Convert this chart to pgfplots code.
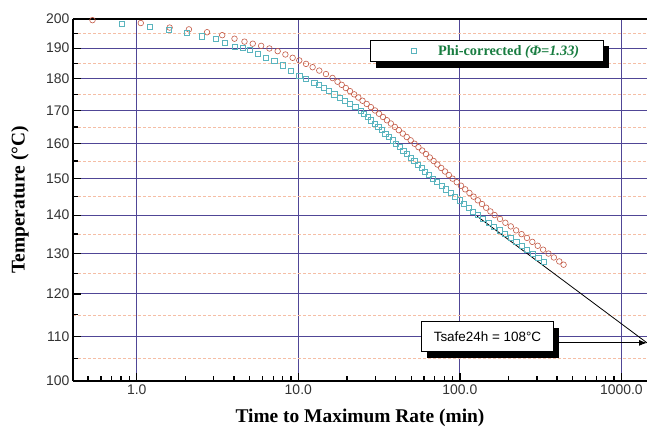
\documentclass[border=0pt]{standalone}
\usepackage{fontspec}
\setmainfont{Liberation Serif}
\setsansfont{Liberation Sans}
\usepackage{pgfplots}
\pgfplotsset{compat=1.18}
\usetikzlibrary{shadows,arrows.meta}
\definecolor{redc}{RGB}{195,90,70}
\definecolor{cyanc}{RGB}{90,180,190}
\definecolor{gridc}{RGB}{80,70,150}
\definecolor{minorc}{RGB}{245,190,165}
\definecolor{legc}{RGB}{25,125,65}
\begin{document}
\begin{tikzpicture}
\useasboundingbox (-73bp,-51bp) rectangle (574bp,381bp);
\begin{axis}[
  at={(0,0)}, anchor=south west,
  scale only axis, width=574bp, height=362bp,
  xmode=log, log basis x=10,
  xmin=0.403, xmax=1440,
  ymin=100, ymax=200,
  y coord trafo/.code={\pgfmathparse{-10000/(#1+273.15)}},
  y coord inv trafo/.code={\pgfmathparse{-10000/#1-273.15}},
  xtick={1,10,100,1000},
  xticklabels={1.0,10.0,100.0,1000.0},
  minor xtick={0.5,0.6,0.7,0.8,0.9,2,3,4,5,6,7,8,9,20,30,40,50,60,70,80,90,200,300,400,500,600,700,800,900},
  ytick={100,110,120,130,140,150,160,170,180,190,200},
  yticklabels={100,110,120,130,140,150,160,170,180,190,200},
  minor ytick={105,115,125,135,145,155,165,175,185,195},
  xmajorgrids, ymajorgrids, yminorgrids,
  major grid style={gridc, line width=0.9bp},
  minor grid style={minorc, dash pattern=on 3bp off 2bp, line width=0.6bp},
  axis x line*=box, axis y line*=left,
  axis line style={black, line width=1.8bp},
  tick pos=left, tick align=inside,
  major tick length=8bp, minor tick length=5bp,
  every tick/.style={black, line width=1.3bp},
  /pgf/number format/assume math mode=true,
  tick label style={font=\sffamily\fontsize{14}{14}\selectfont, text=black!80},
  xlabel={Time to Maximum Rate (min)},
  ylabel={Temperature (°C)},
  every axis x label/.style={at={(axis description cs:0.5,-0.102)}, anchor=center, font=\bfseries\fontsize{19.5}{20}\selectfont},
  every axis y label/.style={at={(axis description cs:-0.0923,0.5)}, anchor=center, rotate=90, font=\bfseries\fontsize{19.5}{20}\selectfont},
  clip=false,
  legend image code/.code={\draw[#1] plot coordinates {(19bp,0bp)}; \path (0bp,0bp) (21bp,0bp);},
  legend style={at={(0.5174,0.942)}, anchor=north west, draw=black, thin, fill=white,
    drop shadow={shadow xshift=6bp, shadow yshift=-6bp, fill=black, opacity=1},
    font=\bfseries\fontsize{14.4}{15}\selectfont, text=legc,
    inner xsep=24bp, inner ysep=4bp, column sep=0pt,
    nodes={inner xsep=0pt, inner ysep=1bp}},
]
\addplot[only marks, mark=o, mark size=2.8bp, redc, line width=0.6bp, forget plot] coordinates {
(0.532,199.6)(1.059,198.6)(1.598,197.0)(2.103,196.4)(2.724,195.4)(3.381,194.4)(4.027,193.2)(4.642,192.2)(5.224,191.5)(5.887,190.8)(6.622,189.9)(7.451,189.0)(8.316,187.9)(9.222,186.8)(10.14,185.9)(11.16,184.8)(12.26,183.7)(13.48,182.6)(14.83,181.5)(16.28,180.2)
(17.49,179)(18.56,178)(19.69,177)(20.90,176)(22.18,175)(23.53,174)(24.97,173)(26.50,172)(28.13,171)(29.85,170)(31.59,169)(33.42,168)(35.36,167)(37.41,166)(39.58,165)(41.88,164)(44.31,163)(46.88,162)(49.60,161)(52.48,160)(55.40,159)(58.48,158)(61.73,157)(65.16,156)(68.79,155)(72.61,154)(76.65,153)(80.91,152)(85.41,151)(90.16,150)(95.72,149)(101.6,148)(107.9,147)(114.6,146)(121.6,145)(129.1,144)(137.1,143)(145.5,142)(154.5,141)(164.1,140)(177.2,139)(191.3,138)(206.6,137)(223.1,136)(240.9,135)(260.1,134)(280.9,133)(303.3,132)(327.6,131)(353.7,130)(381.9,129)(412.5,128)(438.5,127.2)
};
\addplot[only marks, mark=square, mark size=2.6bp, cyanc, line width=0.6bp] coordinates {
(0.805,198.3)(1.203,197.2)(1.582,196.3)(2.044,195.1)(2.519,194.0)(3.073,193.1)(3.494,191.9)(4.027,190.5)(4.532,190.0)(4.984,189.3)(5.609,188.1)(6.319,186.8)(7.110,185.7)(8.001,184.3)(9.016,182.6)(10.14,181.0)(11.16,179.9)(12.56,178.8)
(13.33,178)(14.37,177)(15.48,176)(16.69,175)(17.98,174)(19.38,173)(20.89,172)(22.51,171)(24.27,170)(25.53,169)(26.85,168)(28.25,167)(29.72,166)(31.26,165)(32.89,164)(34.59,163)(36.39,162)(38.28,161)(40.27,160)(42.41,159)(44.67,158)(47.04,157)(49.55,156)(52.18,155)(54.95,154)(57.88,153)(60.95,152)(64.20,151)(67.61,150)(72.11,149)(76.91,148)(82.04,147)(87.50,146)(93.33,145)(99.54,144)(106.2,143)(113.2,142)(120.8,141)(128.8,140)(139.3,139)(150.8,138)(163.0,137)(176.3,136)(190.7,135)(206.3,134)(223.2,133)(241.4,132)(261.0,131)(282.3,130)(305.4,129)(330.4,128)
};
\addlegendentry{\hspace*{22bp}Phi-corrected \textit{(Φ=1.33)}}
\addplot[black, line width=0.8bp, no marks, forget plot] coordinates {(128,139.7) (1440,108.5)};
\node[draw=black, thin, fill=white, drop shadow={shadow xshift=6bp, shadow yshift=-6bp, fill=black, opacity=1},
  minimum width=132bp, minimum height=30bp, inner sep=0pt,
  font=\sffamily\fontsize{13.5}{14}\selectfont] at (rel axis cs:0.7221,0.1224) {Tsafe24h = 108°C};
\draw[black, line width=0.9bp, -{Latex[length=8bp,width=6bp]}] (axis cs:408,108.5) -- (axis cs:1440,108.5);
\end{axis}
\end{tikzpicture}
\end{document}
